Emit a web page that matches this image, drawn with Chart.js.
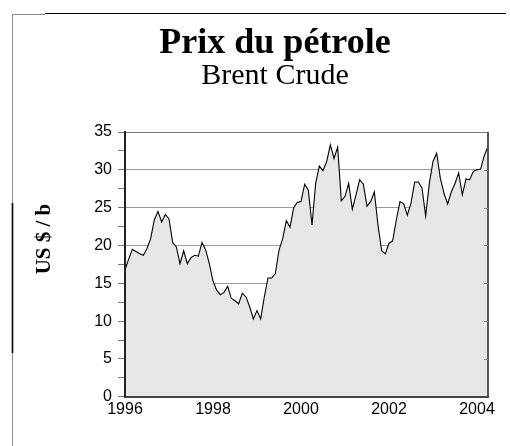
<!DOCTYPE html>
<html><head><meta charset="utf-8">
<script src="https://cdn.jsdelivr.net/npm/chart.js@4/dist/chart.umd.min.js"></script>
<style>html,body{margin:0;padding:0;background:#fff;overflow:hidden}#wrap{position:absolute;left:0;top:0;width:510px;height:446px}</style>
</head><body><div id="wrap"><canvas id="c" width="510" height="446"></canvas></div>
<script>
const titleText = 'Prix du pétrole';
const subtitleText = 'Brent Crude';
const yAxisTitle = 'US $ / b';
const startYear = 1996;               // first monthly observation: January 1996
const xTickYears = [1996, 1998, 2000, 2002, 2004];
const yMin = 0, yMax = 35, yStep = 2.5;
// monthly Brent price, US$ per barrel, Jan 1996 .. Apr 2004
const prices1996 = [16.8, 18.2, 19.5, 19.2, 18.9, 18.7, 19.6, 20.9, 23.4, 24.5, 23.1, 24.1];
const prices1997 = [23.5, 20.4, 19.8, 17.6, 19.3, 17.6, 18.4, 18.7, 18.6, 20.4, 19.4, 17.6];
const prices1998 = [15.3, 14.1, 13.5, 13.8, 14.6, 13.0, 12.7, 12.3, 13.7, 13.2, 11.9, 10.3];
const prices1999 = [11.4, 10.3, 13.2, 15.7, 15.7, 16.3, 19.4, 20.9, 23.3, 22.4, 25.0, 25.7];
const prices2000 = [25.8, 28.1, 27.3, 22.7, 28.2, 30.5, 29.9, 31.1, 33.3, 31.5, 33.0, 25.9];
const prices2001 = [26.5, 28.2, 24.8, 26.7, 28.7, 28.1, 25.2, 25.8, 27.1, 22.7, 19.3, 18.9];
const prices2002 = [20.3, 20.6, 23.4, 25.8, 25.5, 24.0, 25.6, 28.4, 28.4, 27.6, 23.9, 28.2];
const prices2003 = [31.1, 32.2, 28.9, 26.9, 25.5, 27.1, 28.2, 29.6, 26.7, 28.8, 28.7, 29.8];
const prices2004 = [30.0, 30.1, 31.9, 33.1];

const prices = [].concat(prices1996, prices1997, prices1998, prices1999, prices2000,
                         prices2001, prices2002, prices2003, prices2004);
const points = prices.map((v, i) => ({x: startYear + i / 12, y: v}));

const serif = "'Liberation Serif', 'Times New Roman', serif";
const tickFont = {family: "'Liberation Sans', Arial, sans-serif", size: 16};

const decor = {
  id: 'decor',
  beforeDraw(chart) {
    const c = chart.ctx;
    c.save();
    const ln = (x1, y1, x2, y2) => { c.beginPath(); c.moveTo(x1, y1); c.lineTo(x2, y2); c.stroke(); };
    c.lineWidth = 1;
    c.strokeStyle = '#8a8a8a';
    ln(12, 14.5, 45, 14.5);
    ln(12.5, 14, 12.5, 446);
    c.strokeStyle = '#000';
    ln(45, 13.5, 506, 13.5);
    c.lineWidth = 1.6;
    ln(12.5, 203, 12.5, 353);
    c.restore();
  },
  afterDatasetsDraw(chart) {
    const c = chart.ctx, a = chart.chartArea, ys = chart.scales.y;
    c.save();
    c.strokeStyle = '#555';
    c.lineWidth = 2;
    c.beginPath(); c.moveTo(a.right, a.top); c.lineTo(a.right, a.bottom); c.stroke();
    c.strokeStyle = '#888';
    c.lineWidth = 1;
    for (let v = yMin + 5; v < yMax; v += 5) {
      const y = Math.round(ys.getPixelForValue(v)) + 0.5;
      c.beginPath(); c.moveTo(a.right - 4, y); c.lineTo(a.right, y); c.stroke();
    }
    c.restore();
  },
  afterDraw(chart) {
    const c = chart.ctx;
    c.save();
    c.font = 'bold 21px ' + serif;
    c.fillStyle = '#000';
    c.textAlign = 'center';
    c.textBaseline = 'middle';
    c.translate(45, 239);
    c.rotate(-Math.PI / 2);
    c.fillText(yAxisTitle, 0, 0);
    c.restore();
  }
};

new Chart(document.getElementById('c'), {
  type: 'line',
  data: {
    datasets: [{
      data: points,
      borderColor: '#000',
      borderWidth: 1.1,
      backgroundColor: '#e6e6e6',
      fill: 'origin',
      pointRadius: 0,
      tension: 0
    }]
  },
  options: {
    responsive: false,
    animation: false,
    devicePixelRatio: 1,
    layout: {padding: {left: 62, right: 22, top: 0, bottom: 24}},
    plugins: {
      legend: {display: false},
      tooltip: {enabled: false},
      title: {display: true, text: titleText, color: '#000',
        font: {family: serif, size: 36, weight: 'bold', lineHeight: 1},
        padding: {top: 26, bottom: 0}},
      subtitle: {display: true, text: subtitleText, color: '#000',
        font: {family: serif, size: 30, weight: 'normal', lineHeight: 1},
        padding: {top: -1, bottom: 41}}
    },
    scales: {
      x: {
        type: 'linear',
        min: startYear,
        max: startYear + (prices.length - 1) / 12,
        afterBuildTicks: s => { s.ticks = xTickYears.map(v => ({value: v})); },
        ticks: {callback: v => String(v), padding: 3, font: tickFont, color: '#000', maxRotation: 0, autoSkip: false},
        grid: {display: false, drawTicks: false},
        border: {display: true, color: '#444', width: 2, z: 1}
      },
      y: {
        min: yMin, max: yMax,
        afterFit: s => { s.width = 63; },
        ticks: {stepSize: yStep, callback: v => (v % 5 === 0 ? String(v) : ''), padding: 6, font: tickFont, color: '#000', autoSkip: false},
        grid: {
          color: ctx => (ctx.tick && ctx.tick.value % 5 === 0) ? (ctx.tick.value === yMax ? '#777' : '#9a9a9a') : 'rgba(0,0,0,0)',
          lineWidth: 1, drawTicks: true, tickLength: 7, tickColor: '#777'
        },
        border: {display: true, color: '#222', width: 2, z: 1}
      }
    }
  },
  plugins: [decor]
});
</script></body></html>
